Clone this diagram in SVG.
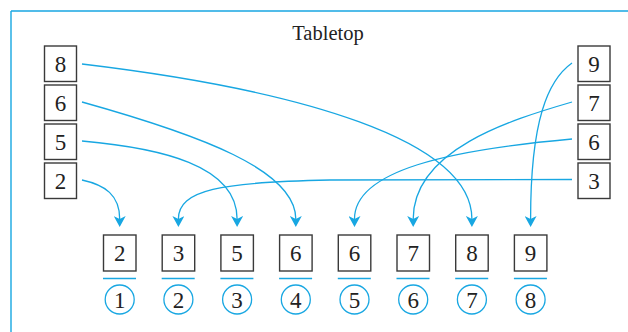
<svg xmlns="http://www.w3.org/2000/svg" width="628" height="332" viewBox="0 0 628 332">
<style>
.box{fill:#fff;stroke:#3a3a3a;stroke-width:1.4}
.t{font-family:"Liberation Serif","Times New Roman",serif;fill:#222;text-anchor:middle}
.d{font-size:23px}
.c{fill:none;stroke:#18a7e2;stroke-width:1.3}
.ln{fill:none;stroke:#18a7e2;stroke-width:1.4}
</style>
<defs>
<marker id="ah" markerUnits="userSpaceOnUse" markerWidth="12" markerHeight="12" viewBox="0 -6 11 12" refX="3" refY="0" orient="auto">
<path d="M0,-6 L11,0 L0,6 L3,0 Z" fill="#18a7e2"/>
</marker>
</defs>
<rect width="628" height="332" fill="#fff"/>
<g id="frame">
<path class="ln" d="M11,11 H628 M11,11 V332"/>
<text class="t" x="328" y="40" font-size="20.5">Tabletop</text>
</g>
<g id="left-8"><rect class="box" x="44.5" y="46" width="32" height="35.5"/><text class="t d" x="60.5" y="71.5">8</text></g>
<g id="left-6"><rect class="box" x="44.5" y="85" width="32" height="35.5"/><text class="t d" x="60.5" y="110.5">6</text></g>
<g id="left-5"><rect class="box" x="44.5" y="124" width="32" height="35.5"/><text class="t d" x="60.5" y="149.5">5</text></g>
<g id="left-2"><rect class="box" x="44.5" y="163" width="32" height="35.5"/><text class="t d" x="60.5" y="188.5">2</text></g>
<g id="right-9"><rect class="box" x="578" y="46" width="32" height="35.5"/><text class="t d" x="594" y="71.5">9</text></g>
<g id="right-7"><rect class="box" x="578" y="85" width="32" height="35.5"/><text class="t d" x="594" y="110.5">7</text></g>
<g id="right-6"><rect class="box" x="578" y="124" width="32" height="35.5"/><text class="t d" x="594" y="149.5">6</text></g>
<g id="right-3"><rect class="box" x="578" y="163" width="32" height="35.5"/><text class="t d" x="594" y="188.5">3</text></g>
<g id="slot-1"><rect class="box" x="103.5" y="235" width="32.5" height="36"/><text class="t d" x="119.7" y="260.5">2</text><path class="ln" d="M103,278.5 H136"/><circle class="c" cx="119.7" cy="299.5" r="14.5"/><text class="t d" x="119.7" y="307.5">1</text></g>
<g id="slot-2"><rect class="box" x="162.2" y="235" width="32.5" height="36"/><text class="t d" x="178.4" y="260.5">3</text><path class="ln" d="M161.7,278.5 H194.7"/><circle class="c" cx="178.4" cy="299.5" r="14.5"/><text class="t d" x="178.4" y="307.5">2</text></g>
<g id="slot-3"><rect class="box" x="220.9" y="235" width="32.5" height="36"/><text class="t d" x="237.1" y="260.5">5</text><path class="ln" d="M220.4,278.5 H253.4"/><circle class="c" cx="237.1" cy="299.5" r="14.5"/><text class="t d" x="237.1" y="307.5">3</text></g>
<g id="slot-4"><rect class="box" x="279.6" y="235" width="32.5" height="36"/><text class="t d" x="295.8" y="260.5">6</text><path class="ln" d="M279.1,278.5 H312.1"/><circle class="c" cx="295.8" cy="299.5" r="14.5"/><text class="t d" x="295.8" y="307.5">4</text></g>
<g id="slot-5"><rect class="box" x="338.3" y="235" width="32.5" height="36"/><text class="t d" x="354.5" y="260.5">6</text><path class="ln" d="M337.8,278.5 H370.8"/><circle class="c" cx="354.5" cy="299.5" r="14.5"/><text class="t d" x="354.5" y="307.5">5</text></g>
<g id="slot-6"><rect class="box" x="397" y="235" width="32.5" height="36"/><text class="t d" x="413.2" y="260.5">7</text><path class="ln" d="M396.5,278.5 H429.5"/><circle class="c" cx="413.2" cy="299.5" r="14.5"/><text class="t d" x="413.2" y="307.5">6</text></g>
<g id="slot-7"><rect class="box" x="455.7" y="235" width="32.5" height="36"/><text class="t d" x="471.9" y="260.5">8</text><path class="ln" d="M455.2,278.5 H488.2"/><circle class="c" cx="471.9" cy="299.5" r="14.5"/><text class="t d" x="471.9" y="307.5">7</text></g>
<g id="slot-8"><rect class="box" x="514.4" y="235" width="32.5" height="36"/><text class="t d" x="530.6" y="260.5">9</text><path class="ln" d="M513.9,278.5 H546.9"/><circle class="c" cx="530.6" cy="299.5" r="14.5"/><text class="t d" x="530.6" y="307.5">8</text></g>
<g id="connectors">
<path class="c" marker-end="url(#ah)" d="M82,64 C300,90 471.9,140 471.9,219"/>
<path class="c" marker-end="url(#ah)" d="M82,102 C200,135 295.8,170 295.8,219"/>
<path class="c" marker-end="url(#ah)" d="M82,141 C160,148 237.1,165 237.1,219"/>
<path class="c" marker-end="url(#ah)" d="M82,180 C105,185 119.7,195 119.7,219"/>
<path class="c" marker-end="url(#ah)" d="M572,63 C548,80 530.6,120 530.6,219"/>
<path class="c" marker-end="url(#ah)" d="M572,102 C510,120 413.2,150 413.2,219"/>
<path class="c" marker-end="url(#ah)" d="M572,139 C450,150 354.5,170 354.5,219"/>
<path class="c" marker-end="url(#ah)" d="M572,179.5 L330,180 C220,182 178.4,190 178.4,219"/>
</g>
</svg>
